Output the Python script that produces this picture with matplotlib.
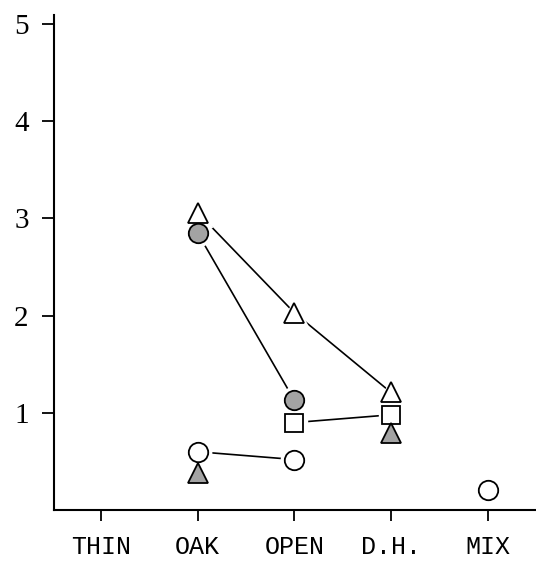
import matplotlib
matplotlib.use("Agg")
import matplotlib.pyplot as plt

categories = ["THIN", "OAK", "OPEN", "D.H.", "MIX"]
yticks = [1, 2, 3, 4, 5]

# series: (x positions as category index 1..5, values)
open_tri_x = [2, 3, 4]
open_tri_y = [3.06, 2.03, 1.21]
grey_circ_x = [2, 3]
grey_circ_y = [2.85, 1.13]
open_sq_x = [3, 4]
open_sq_y = [0.90, 0.98]
open_circ_x = [2, 3]
open_circ_y = [0.60, 0.52]
open_circ_single_x = [5]
open_circ_single_y = [0.21]
grey_tri_x = [2, 4]
grey_tri_y = [0.38, 0.79]

fig = plt.figure(figsize=(5.36, 5.63), dpi=100)
ax = fig.add_axes([0.100, 0.094, 0.900, 0.879])

grey = "#a3a3a3"
lw = 1.2

# lines
ax.plot(open_tri_x, open_tri_y, color="black", lw=lw, zorder=1)
ax.plot(grey_circ_x, grey_circ_y, color="black", lw=lw, zorder=1)
ax.plot(open_sq_x, open_sq_y, color="black", lw=lw, zorder=1)
ax.plot(open_circ_x, open_circ_y, color="black", lw=lw, zorder=1)

specs = [
    (open_tri_x, open_tri_y, "^", "white", 15),
    (grey_circ_x, grey_circ_y, "o", grey, 14),
    (open_sq_x, open_sq_y, "s", "white", 13),
    (open_circ_x, open_circ_y, "o", "white", 14),
    (open_circ_single_x, open_circ_single_y, "o", "white", 14),
    (grey_tri_x, grey_tri_y, "^", grey, 15),
]
# halos to create gaps between lines and markers
for xs, ys, m, fc, ms in specs:
    ax.plot(xs, ys, linestyle="none", marker=m, markersize=ms + 5,
            markerfacecolor="white", markeredgecolor="white", zorder=2)
for xs, ys, m, fc, ms in specs:
    ax.plot(xs, ys, linestyle="none", marker=m, markersize=ms,
            markerfacecolor=fc, markeredgecolor="black", markeredgewidth=1.3,
            zorder=3)

ax.set_xlim(0.51, 5.5)
ax.set_ylim(0, 5.09)
ax.set_xticks(range(1, 6))
ax.set_xticklabels(categories, fontfamily="Liberation Mono", fontsize=18)
ax.set_yticks(yticks)
ax.set_yticklabels([str(v) for v in yticks], fontfamily="Liberation Serif", fontsize=21)
ax.tick_params(axis="x", direction="out", length=8, width=1.3, pad=10)
ax.tick_params(axis="y", direction="out", length=9, width=1.3, pad=9)
for s in ["top", "right"]:
    ax.spines[s].set_visible(False)
for s in ["left", "bottom"]:
    ax.spines[s].set_linewidth(1.5)

fig.savefig("out.png", dpi=100)
